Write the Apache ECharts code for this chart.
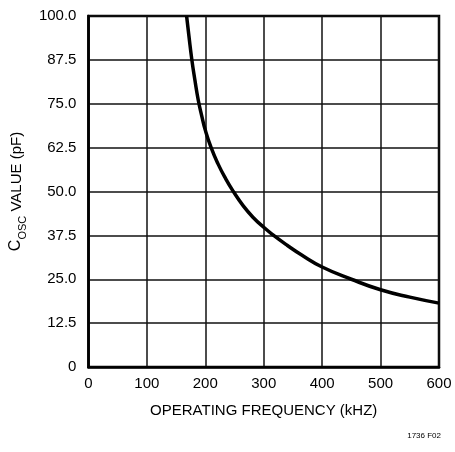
<!DOCTYPE html>
<html>
<head>
<meta charset="utf-8">
<script src="https://cdn.jsdelivr.net/npm/echarts@6/dist/echarts.min.js"></script>
<style>html,body{margin:0;padding:0;background:#fff;}#c{width:455px;height:452px;}</style>
</head>
<body>
<div id="c"></div>
<script>
const freqKHz = [168, 172, 177, 182, 188, 194, 200, 210, 222, 235, 248, 265, 282, 300, 317, 340, 365, 400, 450, 500, 550, 600];
const coscPF  = [100, 94.3, 87.5, 82, 76, 71.5, 67.5, 62.5, 57.8, 53.6, 50, 45.9, 42.6, 39.8, 37.5, 34.7, 31.9, 28.5, 25.0, 22.0, 19.9, 18.2];
const xTicks = [0, 100, 200, 300, 400, 500, 600];
const yTickLabels = ['0', '12.5', '25.0', '37.5', '50.0', '62.5', '75.0', '87.5', '100.0'];

const font = 'Liberation Sans';
const chart = echarts.init(document.getElementById('c'));
chart.setOption({
  animation: false,
  backgroundColor: '#fff',
  grid: { left: 88, right: 16, top: 16, bottom: 85, show: true, borderColor: '#000', borderWidth: 2.5, containLabel: false },
  xAxis: {
    type: 'value', min: 0, max: 600, interval: 100,
    name: 'OPERATING FREQUENCY (kHZ)', nameLocation: 'middle', nameGap: 36,
    nameTextStyle: { fontFamily: font, fontSize: 15, color: '#000' },
    axisLine: { show: true, lineStyle: { color: '#000', width: 2.5 } },
    axisTick: { show: false },
    axisLabel: { margin: 9, fontFamily: font, fontSize: 15, color: '#000',
      formatter: v => xTicks.includes(v) ? String(v) : '' },
    splitLine: { show: true, lineStyle: { color: '#111', width: 1.5 } }
  },
  yAxis: {
    type: 'value', min: 0, max: 100, interval: 12.5,
    name: '{c|C}{s|OSC}{t| VALUE (pF)}', nameLocation: 'middle', nameGap: 59, nameRotate: 90,
    nameTextStyle: { fontFamily: font, fontSize: 15, color: '#000',
      rich: {
        c: { fontFamily: font, fontSize: 16, color: '#000', verticalAlign: 'bottom', lineHeight: 20 },
        s: { fontFamily: font, fontSize: 11, color: '#000', verticalAlign: 'bottom', lineHeight: 14, padding: [0, 0, -4, 0] },
        t: { fontFamily: font, fontSize: 15, color: '#000', verticalAlign: 'bottom', lineHeight: 20 }
      } },
    axisLine: { show: true, lineStyle: { color: '#000', width: 2.5 } },
    axisTick: { show: false },
    axisLabel: { margin: 12, fontFamily: font, fontSize: 15, color: '#000',
      formatter: v => yTickLabels[Math.round(v / 12.5)] },
    splitLine: { show: true, lineStyle: { color: '#111', width: 1.5 } }
  },
  graphic: [{
    type: 'text', right: 14, top: 432,
    style: { text: '1736 F02', fontFamily: font, fontSize: 8, fill: '#000' }
  }],
  series: [{
    type: 'line', smooth: 0.5, symbol: 'none',
    data: freqKHz.map((f, i) => [f, coscPF[i]]),
    lineStyle: { color: '#000', width: 3.5 }
  }]
});
</script>
</body>
</html>
